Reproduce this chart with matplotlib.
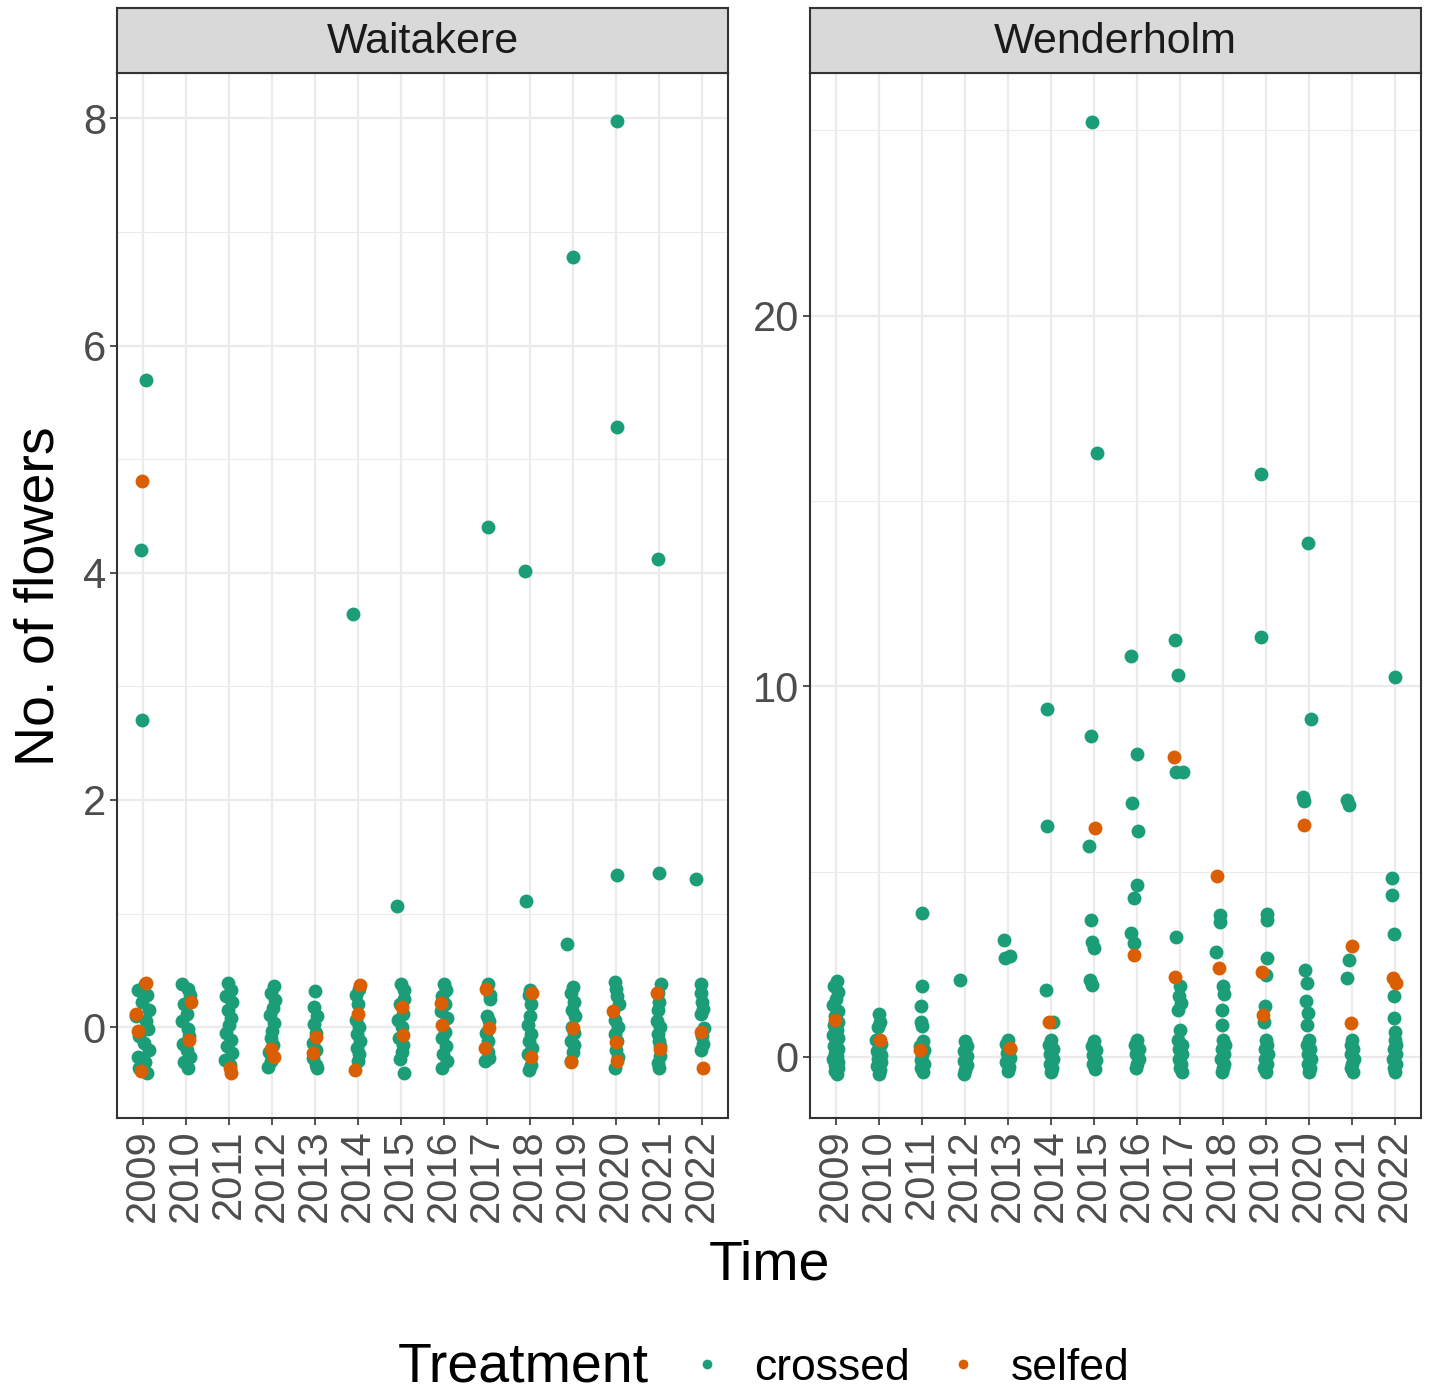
import matplotlib.pyplot as plt
from matplotlib.lines import Line2D
import numpy as np

#----Data----

years = ["2009", "2010", "2011", "2012", "2013", "2014", "2015",
         "2016", "2017", "2018", "2019", "2020", "2021", "2022"]

# Waitakere, crossed: plotted value and horizontal jitter per year
wai_crossed_y = [
    [5.70, 4.20, 2.70, 0.38, 0.33, 0.28, 0.22, 0.15, 0.10, 0.05, -0.02, -0.08, -0.14, -0.20, -0.26, -0.31, -0.36, -0.40],
    [0.38, 0.34, 0.28, 0.20, 0.12, 0.05, -0.02, -0.08, -0.15, -0.20, -0.26, -0.31, -0.36],
    [0.39, 0.33, 0.27, 0.22, 0.15, 0.08, 0.02, -0.05, -0.11, -0.17, -0.23, -0.29, -0.33],
    [0.36, 0.30, 0.24, 0.17, 0.11, 0.04, -0.03, -0.10, -0.16, -0.22, -0.30, -0.35],
    [0.32, 0.18, 0.10, 0.03, -0.05, -0.14, -0.20, -0.27, -0.33, -0.36],
    [3.64, 0.34, 0.28, 0.20, 0.06, 0.00, -0.06, -0.12, -0.18, -0.24, -0.30],
    [1.07, 0.38, 0.33, 0.25, 0.20, 0.12, 0.06, 0.00, -0.10, -0.16, -0.22, -0.28, -0.40],
    [0.38, 0.33, 0.27, 0.20, 0.14, 0.08, -0.04, -0.10, -0.17, -0.24, -0.30, -0.36],
    [4.40, 0.38, 0.28, 0.25, 0.10, 0.05, -0.05, -0.12, -0.18, -0.22, -0.27, -0.30],
    [4.02, 1.11, 0.33, 0.28, 0.20, 0.10, 0.02, -0.06, -0.12, -0.18, -0.24, -0.33, -0.38],
    [6.78, 0.73, 0.35, 0.30, 0.22, 0.15, 0.10, 0.00, -0.05, -0.12, -0.16, -0.22, -0.30],
    [7.98, 5.28, 1.34, 0.40, 0.34, 0.27, 0.20, 0.06, 0.00, -0.06, -0.12, -0.20, -0.26, -0.36],
    [4.12, 1.36, 0.38, 0.30, 0.22, 0.15, 0.05, 0.00, -0.06, -0.12, -0.17, -0.25, -0.32, -0.36],
    [1.30, 0.38, 0.30, 0.22, 0.16, 0.12, -0.01, -0.08, -0.15, -0.20],
]
wai_crossed_dx = [
    [0.07, -0.05, -0.02, 0.05, -0.12, 0.10, -0.03, 0.14, -0.15, 0.08, 0.12, -0.10, 0.02, 0.15, -0.12, 0.06, -0.08, 0.10],
    [-0.08, 0.06, 0.10, -0.05, 0.02, -0.10, 0.04, 0.08, -0.06, 0.03, 0.10, -0.04, 0.05],
    [-0.02, 0.05, -0.06, 0.08, -0.03, 0.06, 0.00, -0.07, 0.04, -0.05, 0.07, -0.08, 0.02],
    [0.05, -0.02, 0.08, 0.02, -0.05, 0.04, 0.00, -0.03, 0.03, -0.06, -0.02, -0.08],
    [0.00, -0.02, 0.04, -0.03, 0.02, -0.05, 0.03, -0.04, 0.02, 0.05],
    [-0.12, 0.02, -0.04, 0.00, -0.05, 0.03, -0.02, 0.04, -0.03, 0.02, -0.01],
    [-0.09, 0.00, 0.06, 0.08, -0.03, 0.05, -0.06, 0.03, -0.04, 0.04, 0.02, -0.02, 0.06],
    [0.00, 0.05, -0.04, 0.02, -0.06, 0.06, 0.03, -0.05, 0.04, -0.02, 0.06, -0.04],
    [0.03, 0.02, 0.06, 0.08, 0.00, 0.04, -0.02, 0.03, -0.03, 0.02, 0.05, -0.04],
    [-0.12, -0.10, 0.00, -0.03, 0.02, 0.00, -0.05, 0.03, -0.02, 0.04, -0.04, 0.01, -0.03],
    [0.00, -0.15, 0.00, -0.04, 0.03, -0.02, 0.04, -0.03, 0.02, -0.04, 0.03, 0.00, -0.05],
    [0.02, 0.02, 0.02, -0.02, 0.00, 0.03, 0.06, -0.02, 0.04, -0.03, 0.02, -0.01, 0.04, -0.02],
    [-0.03, 0.00, 0.04, -0.02, 0.00, -0.03, -0.04, 0.02, -0.03, 0.00, 0.03, 0.02, -0.02, 0.00],
    [-0.14, -0.02, -0.03, 0.00, 0.03, -0.02, 0.04, 0.00, 0.03, -0.02],
]

# Waitakere, selfed
wai_selfed_y = [
    [4.81, 0.39, 0.12, -0.03, -0.39],
    [0.22, -0.11],
    [-0.36, -0.40],
    [-0.19, -0.26],
    [-0.09, -0.23],
    [0.37, 0.12, -0.38],
    [0.18, -0.07],
    [0.21, 0.02],
    [0.34, -0.01, -0.18],
    [0.30, -0.26],
    [-0.01, -0.31],
    [0.14, -0.13, -0.30],
    [0.30, -0.19],
    [-0.04, -0.36],
]
wai_selfed_dx = [
    [-0.02, 0.08, -0.17, -0.12, -0.05],
    [0.12, 0.08],
    [0.03, 0.06],
    [-0.03, 0.04],
    [0.02, -0.04],
    [0.04, -0.01, -0.06],
    [0.02, 0.04],
    [-0.06, -0.04],
    [-0.03, 0.05, -0.04],
    [0.05, 0.02],
    [0.00, -0.04],
    [-0.08, 0.00, 0.03],
    [-0.04, 0.03],
    [-0.03, 0.02],
]

# Wenderholm, crossed
wen_crossed_y = [
    [2.05, 1.90, 1.75, 1.55, 1.40, 1.25, 1.10, 0.95, 0.85, 0.72, 0.60, 0.50, 0.40, 0.30, 0.20, 0.10, 0.02, -0.06, -0.14, -0.22, -0.30, -0.38, -0.45],
    [1.15, 0.95, 0.80, 0.45, 0.35, 0.25, 0.15, 0.05, -0.05, -0.15, -0.25, -0.35, -0.45],
    [3.89, 1.90, 1.36, 0.95, 0.82, 0.42, 0.30, 0.18, 0.05, -0.08, -0.18, -0.30, -0.42],
    [2.08, 0.42, 0.30, 0.15, 0.02, -0.10, -0.22, -0.35, -0.45],
    [3.16, 2.73, 2.67, 0.45, 0.35, 0.22, 0.10, -0.02, -0.15, -0.28, -0.38],
    [9.39, 6.23, 1.81, 0.95, 0.45, 0.32, 0.20, 0.08, -0.05, -0.18, -0.30, -0.40],
    [25.24, 16.29, 8.66, 5.70, 3.70, 3.10, 2.94, 2.08, 1.94, 0.42, 0.30, 0.18, 0.05, -0.08, -0.20, -0.32],
    [10.82, 8.18, 6.86, 6.10, 4.64, 4.29, 3.35, 3.08, 0.45, 0.32, 0.20, 0.08, -0.05, -0.18, -0.30],
    [11.25, 10.31, 7.69, 7.69, 3.24, 1.90, 1.65, 1.45, 1.27, 0.73, 0.45, 0.32, 0.20, 0.08, -0.05, -0.18, -0.30, -0.42],
    [3.83, 3.64, 2.83, 1.90, 1.70, 1.27, 0.87, 0.45, 0.32, 0.20, 0.08, -0.05, -0.18, -0.30, -0.42],
    [15.74, 11.34, 3.86, 3.70, 2.67, 2.20, 1.36, 0.95, 0.45, 0.32, 0.20, 0.08, -0.05, -0.18, -0.30, -0.42],
    [13.87, 9.12, 7.02, 6.91, 2.35, 2.00, 1.50, 1.18, 0.86, 0.45, 0.32, 0.20, 0.08, -0.05, -0.18, -0.30, -0.42],
    [6.94, 6.80, 2.62, 2.13, 0.45, 0.32, 0.20, 0.08, -0.05, -0.18, -0.30, -0.40],
    [10.26, 4.83, 4.37, 3.32, 1.63, 1.05, 0.68, 0.45, 0.32, 0.20, 0.08, -0.05, -0.18, -0.30, -0.40],
]
wen_crossed_dx = [
    [0.03, -0.04, 0.05, 0.00, -0.06, 0.04, -0.02, 0.06, -0.05, 0.02, -0.07, 0.05, 0.00, -0.04, 0.06, -0.02, 0.03, -0.06, 0.04, -0.03, 0.05, -0.01, 0.02],
    [0.00, 0.02, -0.02, -0.06, 0.05, 0.00, -0.04, 0.06, -0.03, 0.04, -0.05, 0.02, 0.00],
    [0.00, 0.01, -0.02, -0.03, 0.00, 0.02, -0.04, 0.05, 0.00, -0.03, 0.04, -0.02, 0.03],
    [-0.12, 0.00, 0.05, -0.03, 0.04, -0.02, 0.05, 0.00, -0.03],
    [-0.10, 0.04, -0.06, 0.00, -0.05, 0.04, -0.03, 0.05, -0.04, 0.02, 0.00],
    [-0.09, -0.09, -0.12, 0.05, 0.00, -0.05, 0.04, -0.03, 0.05, -0.02, 0.03, 0.00],
    [-0.05, 0.06, -0.08, -0.12, -0.08, -0.05, 0.00, -0.10, -0.05, 0.00, -0.05, 0.04, -0.03, 0.05, -0.02, 0.02],
    [-0.13, 0.01, -0.11, 0.03, 0.00, -0.06, -0.13, -0.06, 0.00, -0.04, 0.05, -0.03, 0.04, 0.00, -0.02],
    [-0.12, -0.05, -0.09, 0.07, -0.09, 0.00, -0.03, 0.02, -0.05, 0.00, -0.04, 0.04, -0.02, 0.05, -0.03, 0.03, 0.00, 0.04],
    [-0.06, -0.06, -0.17, 0.00, 0.02, -0.02, -0.02, 0.00, 0.04, -0.03, 0.02, -0.04, 0.03, 0.00, -0.02],
    [-0.11, -0.11, 0.03, 0.03, 0.03, 0.00, -0.03, -0.04, 0.00, 0.03, -0.03, 0.04, -0.02, 0.02, -0.04, 0.00],
    [-0.03, 0.04, -0.14, -0.12, -0.10, -0.05, -0.07, -0.02, -0.04, 0.00, -0.04, 0.03, -0.02, 0.04, -0.03, 0.02, 0.00],
    [-0.13, -0.08, -0.08, -0.13, 0.00, -0.03, 0.03, -0.02, 0.04, 0.00, -0.03, 0.02],
    [0.00, -0.07, -0.07, -0.02, -0.02, -0.02, 0.00, 0.00, 0.03, -0.03, 0.02, -0.04, 0.03, -0.02, 0.00],
]

# Wenderholm, selfed
wen_selfed_y = [
    [1.00], [0.46], [0.19], [], [0.23], [0.95], [6.18],
    [2.75], [8.10, 2.16], [4.89, 2.40], [2.29, 1.13], [6.26], [3.00, 0.91], [2.13, 2.00],
]
wen_selfed_dx = [
    [-0.03], [0.02], [-0.05], [], [0.04], [-0.05], [0.02],
    [-0.06], [-0.14, -0.12], [-0.15, -0.10], [-0.09, -0.08], [-0.12], [0.00, -0.02], [-0.04, 0.02],
]

#----Style----

W, H = 1431, 1394
col_crossed = "#1B9E77"
col_selfed = "#D95F02"
font = "Liberation Sans"
plt.rcParams["font.family"] = [font, "DejaVu Sans"]

fig = plt.figure(figsize=(W / 100, H / 100), dpi=100)


def px_box(x0, y0, x1, y1):
    return [x0 / W, 1 - y1 / H, (x1 - x0) / W, (y1 - y0) / H]


def draw_panel(x0, x1, title, cy, cdx, sy, sdx, ylim, major, minor):
    ax = fig.add_axes(px_box(x0, 73, x1, 1118))
    pos = np.arange(1, len(years) + 1)
    for i in range(len(years)):
        ax.scatter(pos[i] + np.array(cdx[i]), cy[i], s=100, color=col_crossed,
                   linewidths=0, zorder=3)
    for i in range(len(years)):
        if sy[i]:
            ax.scatter(pos[i] + np.array(sdx[i]), sy[i], s=100, color=col_selfed,
                       linewidths=0, zorder=4)
    ax.set_xlim(0.4, len(years) + 0.6)
    ax.set_ylim(*ylim)
    ax.set_xticks(pos)
    ax.set_xticklabels(years, rotation=90, fontsize=30, color="#4D4D4D")
    ax.set_yticks(major)
    ax.set_yticks(minor, minor=True)
    ax.tick_params(axis="both", which="major", length=5, width=1.2,
                   color="#333333", labelsize=30, labelcolor="#4D4D4D", pad=3)
    ax.tick_params(axis="y", which="minor", length=0)
    ax.grid(True, which="major", color="#EBEBEB", linewidth=1.6, zorder=0)
    ax.grid(True, which="minor", axis="y", color="#EBEBEB", linewidth=0.8, zorder=0)
    ax.set_axisbelow(True)
    for sp in ax.spines.values():
        sp.set_color("#333333")
        sp.set_linewidth(1.5)

    strip = fig.add_axes(px_box(x0, 8, x1, 73))
    strip.set_facecolor("#D9D9D9")
    strip.set_xticks([])
    strip.set_yticks([])
    for sp in strip.spines.values():
        sp.set_color("#333333")
        sp.set_linewidth(1.5)
    strip.text(0.5, 0.47, title, ha="center", va="center", fontsize=31,
               color="#1A1A1A", transform=strip.transAxes)
    return ax


ax1 = draw_panel(117, 728, "Waitakere", wai_crossed_y, wai_crossed_dx,
                 wai_selfed_y, wai_selfed_dx, (-0.80, 8.40),
                 [0, 2, 4, 6, 8], [1, 3, 5, 7])
ax2 = draw_panel(810, 1421, "Wenderholm", wen_crossed_y, wen_crossed_dx,
                 wen_selfed_y, wen_selfed_dx, (-1.65, 26.55),
                 [0, 10, 20], [5, 15, 25])

#----Titles and legend----

fig.text(769 / W, 1 - 1265 / H, "Time", ha="center", va="center", fontsize=40)
fig.text(40 / W, 1 - 596 / H, "No. of flowers", ha="center", va="center",
         rotation=90, fontsize=40)

fig.text(398 / W, 1 - 1367 / H, "Treatment", ha="left", va="center", fontsize=40)
handles = [
    Line2D([], [], marker="o", linestyle="none", markersize=7,
           markeredgewidth=0, color=col_crossed, label="crossed"),
    Line2D([], [], marker="o", linestyle="none", markersize=7,
           markeredgewidth=0, color=col_selfed, label="selfed"),
]
fig.legend(handles=handles, ncol=2, frameon=False, fontsize=32,
           loc="center left", bbox_to_anchor=(685 / W, 1 - 1368 / H),
           handlelength=1.0, handletextpad=0.56, columnspacing=0.7,
           borderpad=0, borderaxespad=0)

plt.savefig("out.png", dpi=100)
